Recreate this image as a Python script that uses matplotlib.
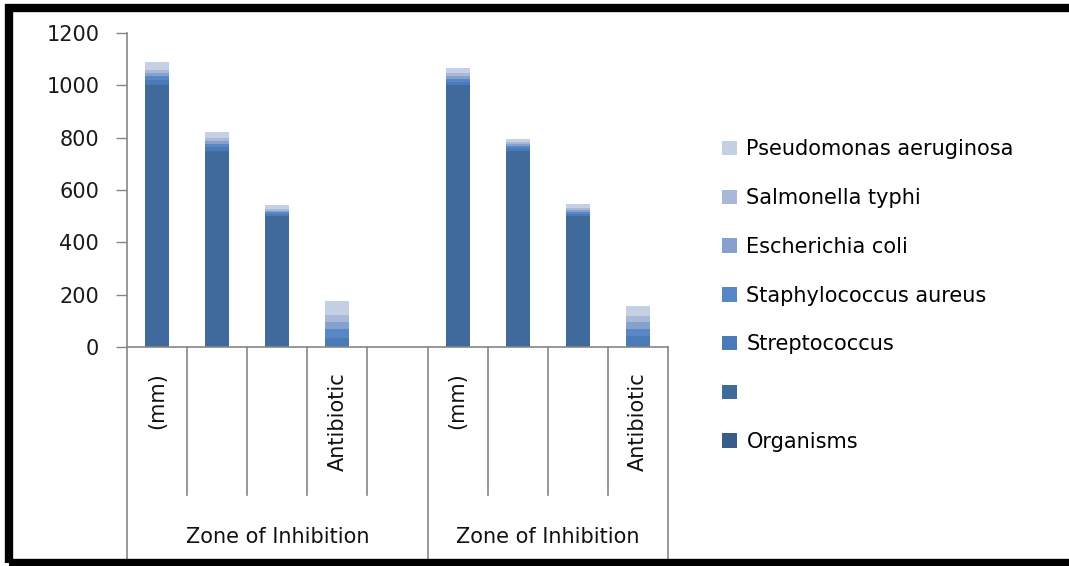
import matplotlib
matplotlib.use('Agg')
from matplotlib import pyplot as plt
from matplotlib.patches import Rectangle, Patch
import numpy as np

categories = ['(mm)', '', '', 'Antibiotic', '', '(mm)', '', '', 'Antibiotic']
groups = ['Zone of Inhibition', 'Zone of Inhibition']
group_spans = [(0, 4), (5, 8)]

series_names = ['Organisms', '', 'Streptococcus', 'Staphylococcus aureus',
                'Escherichia coli', 'Salmonella typhi', 'Pseudomonas aeruginosa']
organisms = [0, 0, 0, 0, 0, 0, 0, 0, 0]
blank = [1000, 750, 500, 0, 0, 1000, 750, 500, 0]
streptococcus = [19, 14, 8, 36, 0, 12, 9, 9, 41]
staphylococcus = [15, 12, 7, 32, 0, 12, 9, 8, 28]
e_coli = [12, 10, 6, 29, 0, 10, 8, 8, 25]
salmonella = [12, 13, 8, 25, 0, 12, 8, 8, 25]
pseudomonas = [32, 23, 14, 55, 0, 20, 12, 12, 36]

colors = ['#385d8a', '#40699c', '#4a7ab8', '#5787c5', '#86a1cd', '#a9b8d8', '#c6d0e4']

W, H = 1069, 566
fig = plt.figure(figsize=(W / 100, H / 100), dpi=100)
fig.patch.set_facecolor('white')

x0, x1, y0, y1 = 127, 668, 347, 33
ax = fig.add_axes([x0 / W, 1 - y0 / H, (x1 - x0) / W, (y0 - y1) / H])

x = np.arange(len(categories))
data = [organisms, blank, streptococcus, staphylococcus, e_coli, salmonella, pseudomonas]
bottom = np.zeros(len(categories))
handles = []
for name, vals, c in zip(series_names, data, colors):
    ax.bar(x, vals, width=0.4, bottom=bottom, color=c, edgecolor='none')
    bottom += np.array(vals)
    handles.append(Patch(facecolor=c, edgecolor='none', label=name))

ax.set_xlim(-0.5, len(categories) - 0.5)
ax.set_ylim(0, 1200)
ax.set_yticks(range(0, 1201, 200))
ax.tick_params(axis='y', direction='out', length=8, width=1, color='#868686',
               pad=12, labelsize=15, labelcolor='#1a1a1a')
ax.set_xticks([])
for s in ['top', 'right']:
    ax.spines[s].set_visible(False)
for s in ['left', 'bottom']:
    ax.spines[s].set_color('#868686')
    ax.spines[s].set_linewidth(1.2)

# category dividers and labels below the axis
tr = ax.get_xaxis_transform()
inner_y = (y0 - 495) / (y0 - y1)
full_y = (y0 - 570) / (y0 - y1)
group_edges = [-0.5, 4.5, 8.5]
for e in np.arange(-0.5, len(categories), 1.0):
    yb = full_y if e in group_edges else inner_y
    ax.plot([e, e], [0, yb], transform=tr, color='#868686', lw=1.2, clip_on=False)
for i, lab in enumerate(categories):
    if lab:
        ax.text(i, (y0 - 372) / (y0 - y1), lab, transform=tr, rotation=90,
                ha='center', va='top', fontsize=15, color='#111111')
for g, (a, b) in zip(groups, group_spans):
    ax.text((a + b) / 2, (y0 - 537) / (y0 - y1), g, transform=tr,
            ha='center', va='center', fontsize=15, color='#111111')

leg = fig.legend(handles[::-1], series_names[::-1], loc='upper left',
                 bbox_to_anchor=(712 / W, 1 - 129 / H), frameon=False,
                 fontsize=15, handlelength=0.7, handleheight=0.7,
                 handletextpad=0.45, labelspacing=1.38, borderpad=0)

# black frame around the chart
fig.patches.append(Rectangle((9 / W, 3 / H), 1.2, 1 - 11 / H, transform=fig.transFigure,
                             fill=False, edgecolor='black', linewidth=6))

fig.savefig('out.png', dpi=100)
